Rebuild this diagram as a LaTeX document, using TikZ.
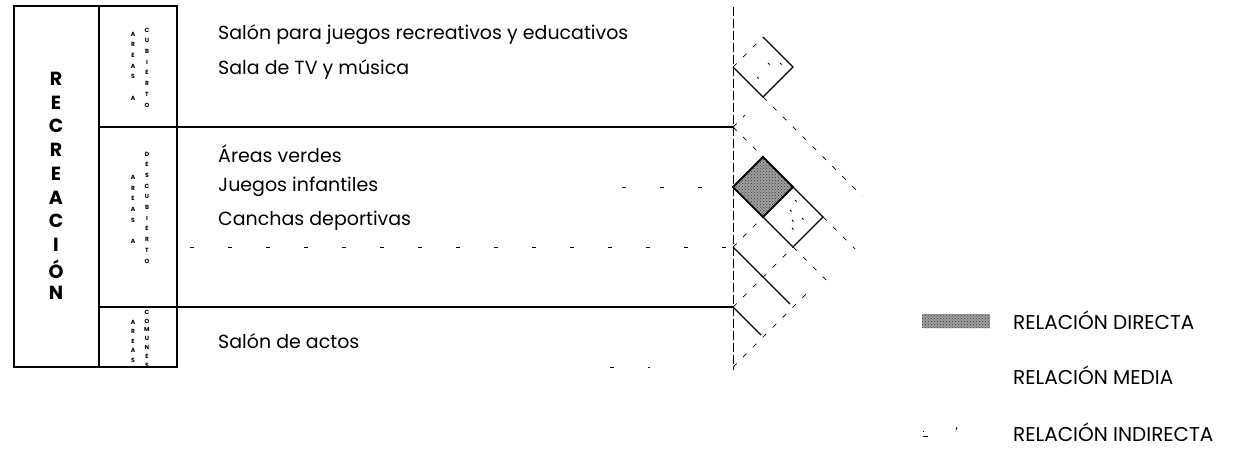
\documentclass[tikz,border=0pt]{standalone}
\usepackage{fontspec}
\setmainfont{Poppins}
\usetikzlibrary{patterns}
\begin{document}
\begin{tikzpicture}[x=1pt,y=-1pt,
  frame/.style={line width=1.5pt},
  divider/.style={line width=1.9pt},
  vline/.style={line width=0.9pt, dash pattern=on 9pt off 3pt},
  gridsolid/.style={line width=1.2pt},
  griddash/.style={line width=0.7pt, dash pattern=on 5pt off 9pt},
  faint/.style={line width=0.7pt, dash pattern=on 4pt off 34pt},
  item/.style={anchor=west, inner sep=0pt, font=\fontsize{19}{22}\selectfont},
  legend/.style={anchor=base west, inner sep=0pt, font=\fontsize{20}{24}\selectfont},
  bigletter/.style={inner sep=0pt, font=\fontsize{19}{22}\selectfont\bfseries},
  stack/.style={inner sep=0pt, align=center, font=\fontsize{6}{10.7}\selectfont\bfseries},
  speck/.style={line width=0.8pt},
  darkfill/.style={fill=black!38, postaction={pattern=crosshatch dots, pattern color=black!75}}
]
\useasboundingbox (0,0) rectangle (1248,449);

% left frame
\draw[frame] (14,6) rectangle (177,367);
\draw[frame] (99,6) -- (99,367);
\draw[divider] (99,127) -- (733,127);
\draw[divider] (99,307) -- (733,307);

% RECREACION
\foreach \l/\yy [count=\i] in {R/79,E/103,C/126,R/150,E/174,A/198,C/221,I/245,Ó/269,N/293}
  \node[bigletter] (rec\i) at (56,\yy) {\l};

% small stacked labels
\node[stack] (s1a) at (133,66) {A\\R\\E\\A\\S\\~\\A};
\node[stack] (s1b) at (147,67.5) {C\\U\\B\\I\\E\\R\\T\\O};
\node[stack] (s2a) at (133,209.5) {A\\R\\E\\A\\S\\~\\A};
\node[stack] (s2b) at (147,207.5) {D\\E\\S\\C\\U\\B\\I\\E\\R\\T\\O};
\node[stack, font=\fontsize{6}{9.5}\selectfont\bfseries] (s3a) at (133,341) {A\\R\\E\\A\\S};
\node[stack, font=\fontsize{6}{8.8}\selectfont\bfseries] (s3b) at (147,338.5) {C\\O\\M\\U\\N\\E\\S};

% items
\node[item] (i1) at (218,35) {Salón para juegos recreativos y educativos};
\node[item] (i2) at (218,70) {Sala de TV y música};
\node[item] (i3) at (218,154) {Áreas verdes};
\node[item] (i4) at (218,187) {Juegos infantiles};
\node[item] (i5) at (218,221) {Canchas deportivas};
\node[item] (i6) at (218,341) {Salón de actos};

% faint horizontal remnants
\draw[faint] (190,247) -- (733,247);
\draw[faint] (622,187) -- (733,187);
\draw[faint] (610,367) -- (650,367);

% vertical axis
\coordinate (p0) at (733,7);
\coordinate (p1) at (733,67);
\coordinate (p2) at (733,127);
\coordinate (p3) at (733,187);
\coordinate (p4) at (733,247);
\coordinate (p5) at (733,307);
\coordinate (p6) at (733,367);
\draw[vline] (p0) -- (733,370);

% diamond 1
\coordinate (d1t) at (763,37);
\coordinate (d1r) at (793,67);
\coordinate (d1b) at (763,97);
\draw[griddash] (p1) -- (d1t);
\draw[gridsolid] (d1t) -- (d1r) -- (d1b) -- (p1);
\foreach \a/\b in {768/63,780/63,757/77}
  \draw[speck] (\a,\b) -- ++(1.5,1.5);

% diamond 2 (direct)
\coordinate (d2t) at (763,157);
\coordinate (d2r) at (793,187);
\coordinate (d2b) at (763,217);
\draw[darkfill, line width=1.8pt] (p3) -- (d2t) -- (d2r) -- (d2b) -- cycle;

% diamond 3
\coordinate (d3r) at (823,217);
\coordinate (d3b) at (793,247);
\draw[gridsolid] (d2r) -- (d3r) -- (d3b) -- (d2b);
\foreach \a/\b in {795/200,790/210,792/220,802/218,792/228}
  \draw[speck] (\a,\b) -- ++(1.5,1.5);

% solid grid lines
\coordinate (e4) at (790,304);
\coordinate (e5) at (761,335);
\draw[gridsolid] (p4) -- (e4);
\draw[gridsolid] (p5) -- (e5);

% dashed grid lines
\coordinate (u6) at (810,290);
\coordinate (u2) at (745,115);
\coordinate (f2) at (855,249);
\coordinate (f1) at (862,196);
\coordinate (f3) at (826,280);
\draw[griddash] (p6) -- (u6);
\draw[griddash] (p5) -- (d3b);
\draw[griddash] (p4) -- (d2b);
\draw[griddash] (p2) -- (u2);
\draw[griddash] (p2) -- (d2t);
\draw[griddash] (d3r) -- (f2);
\draw[griddash] (d1b) -- (f1);
\draw[griddash] (d3b) -- (f3);

% legend
\node[draw=none, darkfill, minimum width=68pt, minimum height=14pt, inner sep=0pt] (lg1) at (956,321) {};
\node[legend] (lt1) at (1013,329) {RELACIÓN DIRECTA};
\node[legend] (lt2) at (1013,384) {RELACIÓN MEDIA};
\node[legend] (lt3) at (1013,441) {RELACIÓN INDIRECTA};
\draw[speck] (923,431) -- (924,431);
\draw[speck] (923,436) -- (928,436);
\draw[speck] (957,427) -- (956,430);
\end{tikzpicture}
\end{document}
